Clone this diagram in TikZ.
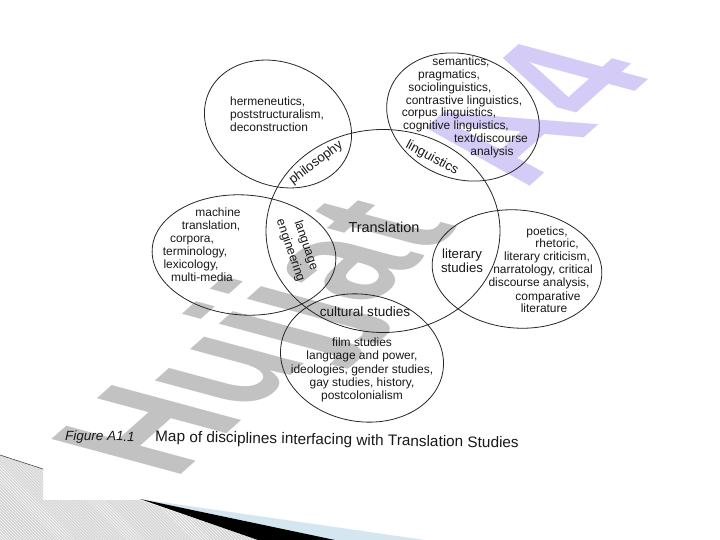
\documentclass[tikz,border=0pt]{standalone}
\usepackage{fontspec}
\setmainfont{Liberation Sans}
\usetikzlibrary{shapes.geometric,patterns}
\definecolor{stampgray}{RGB}{194,194,194}
\definecolor{stamplilac}{RGB}{212,204,246}
\definecolor{slideblue}{RGB}{212,230,240}
\definecolor{slidehatch}{RGB}{212,212,212}

\begin{document}
\begin{tikzpicture}[x=1bp,y=-1bp,
  area/.style={draw=black!85,line width=0.8bp,shape=ellipse,inner sep=0pt},
  topic/.style={text=black!90,inner sep=0pt,font=\fontsize{12}{13}\selectfont},
  field/.style={text=black!90,inner sep=0pt,align=center,font=\fontsize{13.3}{14.5}\selectfont},
  stamp/.style={inner sep=0pt,transform shape,anchor=base west,font=\fontsize{10}{12}\selectfont\bfseries}]
\useasboundingbox[fill=white] (0,0) rectangle (720,540);
\node[stamp,text=stampgray,cm={10.3,9.2,-18.9,5.1,(172.5,482)}] (hujjat) at (0,0) {Hujjat};
\node[stamp,text=stamplilac,cm={10.3,9.2,-18.9,5.1,(525,190)}] (afour) at (0,0) {A4};
\fill[slidehatch] (0,455) -- (43,469) -- (43,500) -- (140,500) -- (258,540) -- (0,540) -- cycle;
\fill[pattern=north west lines,pattern color=white] (0,455) -- (43,469) -- (43,500) -- (140,500) -- (258,540) -- (0,540) -- cycle;
\draw[black!70,line width=0.6bp] (0,455) -- (43,469);
\fill[slideblue] (140,499) -- (425,540) -- (335,540) -- cycle;
\fill[black] (140,499) -- (335,540) -- (258,540) -- cycle;
% the six fields
\node[area,minimum width=152bp,minimum height=122bp,rotate=-25] (philo) at (278,124) {};
\node[area,minimum width=156bp,minimum height=124bp,rotate=-20] (lingu) at (463,117) {};
\node[area,minimum width=234bp,minimum height=203bp] (transl) at (383,231) {};
\node[area,minimum width=184bp,minimum height=120bp,rotate=-4] (machine) at (244,255) {};
\node[area,minimum width=170bp,minimum height=118bp,rotate=-5] (litstud) at (517,269) {};
\node[area,minimum width=164bp,minimum height=127bp,rotate=-10] (cultstud) at (362,358) {};
\node[topic,align=left,anchor=west] (philotext) at (230,114) {hermeneutics,\\poststructuralism,\\deconstruction};
\node[field,rotate=37] (philolabel) at (316,163) {philosophy};
\foreach \xx/\yy/\ww [count=\i] in {461/66/{semantics,},449/79/{pragmatics,},450/92/{sociolinguistics,},
  464/105/{contrastive linguistics,},449/117/{corpus linguistics,},456/130/{cognitive linguistics,},
  491/143/{text/discourse},492/156/analysis}
  \node[topic,anchor=base] (lingu\i) at (\xx,\yy) {\ww};
\node[field,rotate=-28] (lingulabel) at (432,158) {linguistics};
\node[field,font=\fontsize{14.5}{16}\selectfont] (transllabel) at (384,227) {Translation};
\foreach \xx/\yy/\ww [count=\i] in {218/217/machine,211/230/{translation,},192/243/{corpora,},
  195/256/{terminology,},191/269/{lexicology,},202/282/multi-media}
  \node[topic,anchor=base] (machine\i) at (\xx,\yy) {\ww};
\node[field,rotate=-71,font=\fontsize{12.5}{16.5}\selectfont] (englabel) at (298,248) {language\\engineering};
\node[field] (litlabel) at (462,261) {literary\\studies};
\foreach \xx/\yy/\ww [count=\i] in {547/236/{poetics,},557/248/{rhetoric,},547/261/{literary criticism,},
  543/274/{narratology, critical},539/287/{discourse analysis,},548/300/comparative,544/312/literature}
  \node[topic,anchor=base] (litstud\i) at (\xx,\yy) {\ww};
\node[field,font=\fontsize{13.6}{15}\selectfont] (cultlabel) at (365,312) {cultural studies};
\node[topic,align=center,font=\fontsize{12}{13.5}\selectfont] (culttext) at (362,370) {film studies\\language and power,\\ideologies, gender studies,\\gay studies, history,\\postcolonialism};
\node[anchor=base west,inner sep=0pt,rotate=-1,text=black!90,font=\fontsize{13.5}{15}\selectfont\itshape] (figno) at (65,440) {Figure A1.1};
\node[anchor=base west,inner sep=0pt,rotate=-1,text=black!90,font=\fontsize{15.4}{17}\selectfont] (caption) at (155,441.6) {Map of disciplines interfacing with Translation Studies};
\end{tikzpicture}
\end{document}
